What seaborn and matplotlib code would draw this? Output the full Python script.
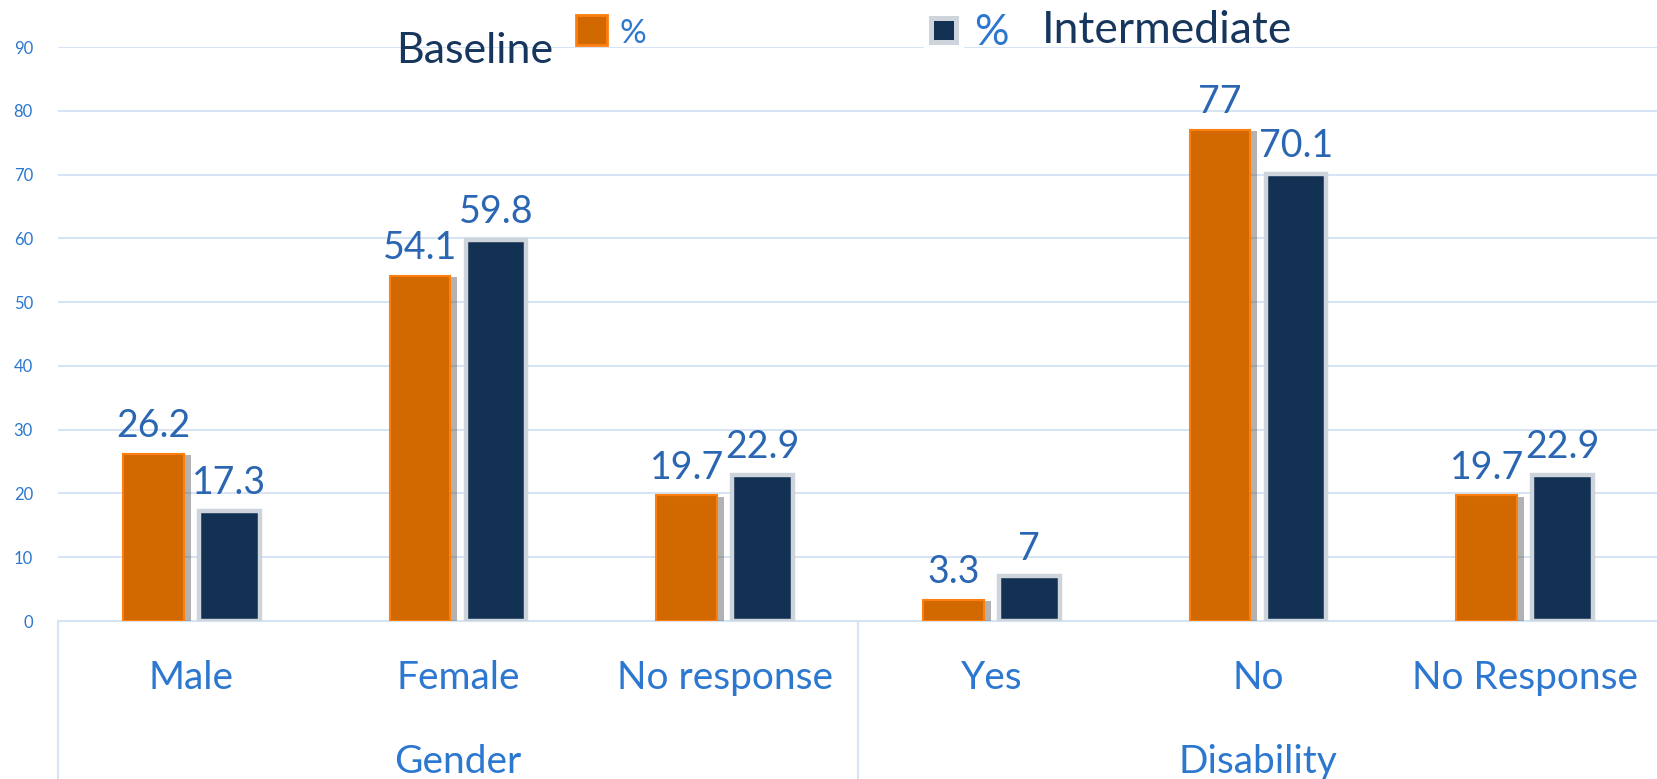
"""
Baseline vs intermediate survey shares, grouped bar chart.
"""

import matplotlib

matplotlib.use("Agg")
import matplotlib.pyplot as plt
import matplotlib.patheffects as pe
import pandas as pd
import seaborn as sns
from matplotlib.patches import Rectangle

categories = ["Male", "Female", "No response", "Yes", "No", "No Response"]
groups = ["Gender", "Disability"]
group_members = [3, 3]
baseline = [26.2, 54.1, 19.7, 3.3, 77, 19.7]
intermediate = [17.3, 59.8, 22.9, 7, 70.1, 22.9]
series = ["Baseline", "Intermediate"]
yticks = [0, 10, 20, 30, 40, 50, 60, 70, 80, 90]

ORANGE = "#D26900"
NAVY = "#123153"
GRAY_EDGE = "#CDD4DC"
GRID = "#D5E4F5"
BLUE_TXT = "#2C77CF"
VAL_TXT = "#2A66B2"
DARK_TXT = "#17365D"

W, H = 1658, 779

df = pd.DataFrame({
    "category": categories * 2,
    "series": [series[0]] * len(categories) + [series[1]] * len(categories),
    "value": baseline + intermediate,
})

sns.set_theme(style="white")
plt.rcParams["font.family"] = ["Lato", "DejaVu Sans"]

fig = plt.figure(figsize=(W / 100, H / 100), dpi=100)
ax = fig.add_axes([58 / W, (H - 621) / H, 1600 / W, 574 / H])

sns.barplot(
    data=df, x="category", y="value", hue="series", order=categories,
    hue_order=series, palette=[ORANGE, NAVY], saturation=1, width=0.57,
    gap=0.2, legend=False, ax=ax, zorder=3,
)

# bar styling
for bar in ax.containers[0]:
    bar.set_edgecolor("#FF7F0E")
    bar.set_linewidth(1.5)
    bar.set_path_effects([
        pe.SimplePatchShadow(offset=(5, -1), shadow_rgbFace="#555555", alpha=0.45),
        pe.Normal(),
    ])
for bar in ax.containers[1]:
    bar.set_edgecolor(GRAY_EDGE)
    bar.set_linewidth(3.2)

for cont in ax.containers:
    ax.bar_label(cont, labels=[f"{v:g}" for v in cont.datavalues], padding=7,
                 fontsize=27, color=VAL_TXT)

ax.set_xlim(-0.5, len(categories) - 0.5)
ax.set_ylim(0, 90)
ax.set_yticks(yticks)
ax.set_yticklabels([str(t) for t in yticks])
ax.tick_params(axis="y", length=0, pad=18, labelsize=12, labelcolor=BLUE_TXT)
ax.tick_params(axis="x", length=0, labelbottom=False)
ax.yaxis.grid(True, color=GRID, linewidth=1.4, zorder=0)
ax.set_axisbelow(True)
ax.set_xlabel("")
ax.set_ylabel("")
for s in ax.spines.values():
    s.set_visible(False)

# category and group labels under the axis
xt = ax.get_xaxis_transform()
for i, cat in enumerate(categories):
    ax.text(i, -0.1185, cat, transform=xt, ha="center", va="baseline",
            fontsize=28, color=BLUE_TXT)
start = 0
for g, n in zip(groups, group_members):
    mid = start + (n - 1) / 2
    ax.text(mid, -0.265, g, transform=xt, ha="center", va="baseline",
            fontsize=28, color=BLUE_TXT)
    ax.plot([start - 0.5, start - 0.5], [0, -0.3], transform=xt, color=GRID,
            linewidth=1.5, clip_on=False)
    start += n
ax.plot([-0.5, len(categories) - 0.5], [0, 0], transform=xt, color=GRID,
        linewidth=1.5, clip_on=False, zorder=1)

# legend, drawn by hand to mimic the odd layout of the original
fig.text(396 / W, 1 - 63 / H, "Baseline", fontsize=31, color=DARK_TXT,
         ha="left", va="baseline")
fig.patches.append(Rectangle((576 / W, 1 - 45 / H), 31 / W, 30 / H,
                             transform=fig.transFigure, facecolor=ORANGE,
                             edgecolor="#FF7F0E", linewidth=2))
fig.text(620 / W, 1 - 43 / H, "%", fontsize=24, color=BLUE_TXT,
         ha="left", va="baseline")
fig.patches.append(Rectangle((924 / W, 1 - 48 / H), 40 / W, 36 / H,
                             transform=fig.transFigure, facecolor="white",
                             edgecolor="none"))
fig.patches.append(Rectangle((931.5 / W, 1 - 41.5 / H), 25 / W, 24 / H,
                             transform=fig.transFigure, facecolor=NAVY,
                             edgecolor=GRAY_EDGE, linewidth=3.6))
fig.text(974 / W, 1 - 45 / H, "%", fontsize=31, color=BLUE_TXT,
         ha="left", va="baseline")
fig.text(1042 / W, 1 - 43 / H, "Intermediate", fontsize=32, color=DARK_TXT,
         ha="left", va="baseline")

fig.savefig("out.png", dpi=100)
plt.close(fig)
